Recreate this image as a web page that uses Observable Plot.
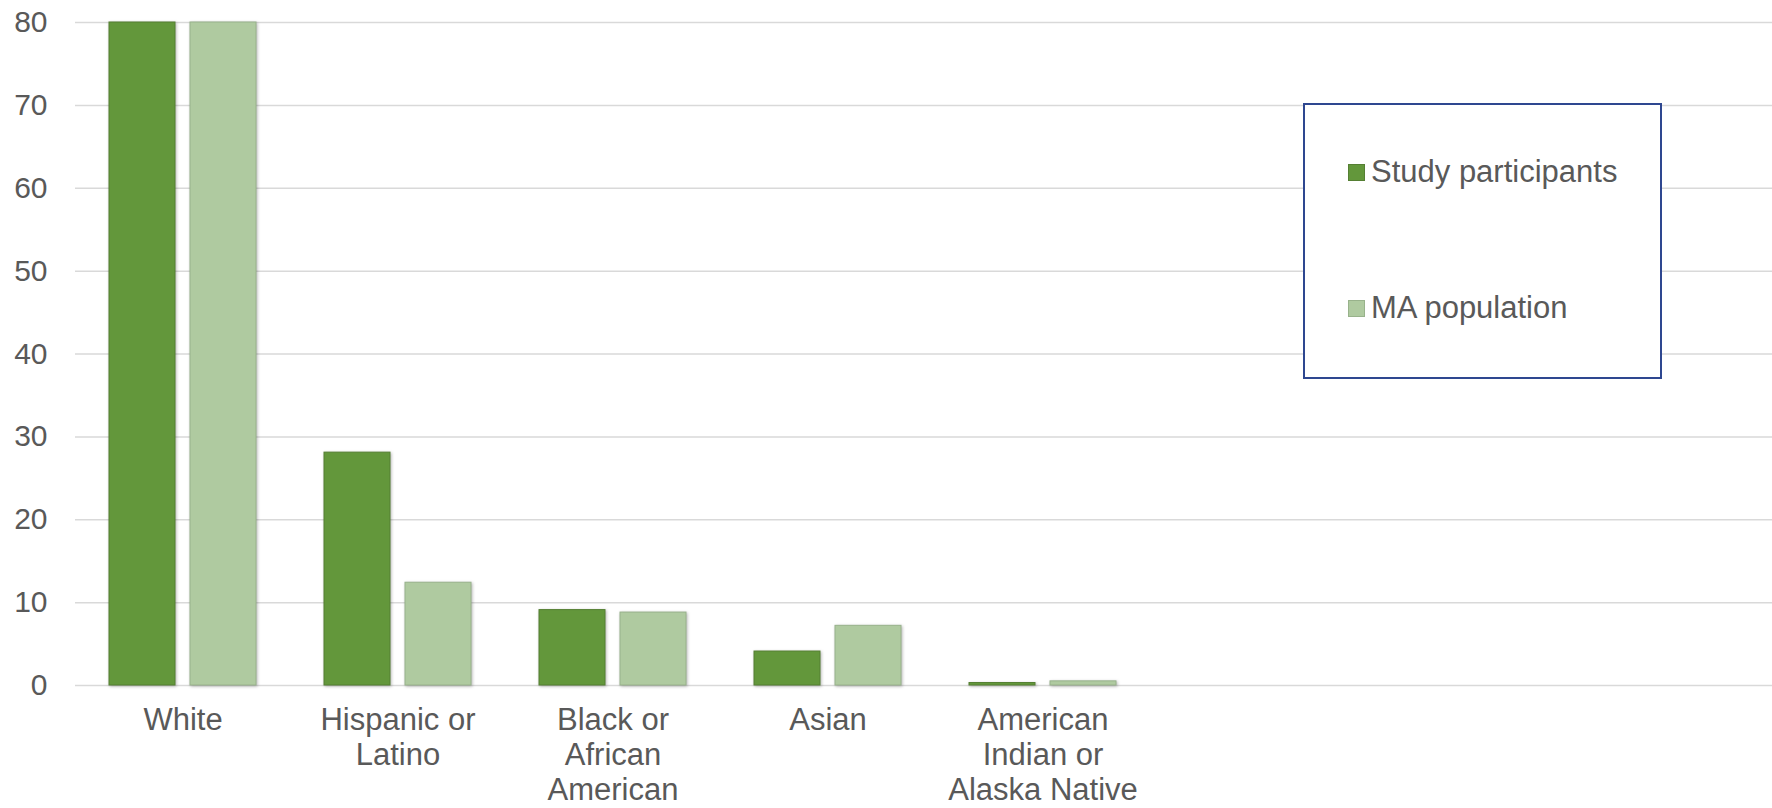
<!DOCTYPE html>
<html><head><meta charset="utf-8">
<script src="https://cdn.jsdelivr.net/npm/d3@7"></script>
<script src="https://cdn.jsdelivr.net/npm/@observablehq/plot@0.6"></script>
<style>
html,body{margin:0;padding:0;background:#fff;overflow:hidden}
#wrap{position:relative;width:1772px;height:808px;overflow:hidden;font-family:"Liberation Sans",Arial,sans-serif;color:#595959}
#legend{position:absolute;left:1303px;top:103px;width:355px;height:272px;border:2px solid #2e4790;background:#fff}
.item{position:absolute;left:43px;font-size:31px;line-height:31px;white-space:nowrap}
.sw{display:inline-block;width:15px;height:15px;border:1px solid;margin-right:6px;vertical-align:1px}
.bars rect{filter:drop-shadow(1px 1px 1.5px rgba(0,0,0,0.28))}
</style></head><body><div id="wrap"></div>
<script>
const categories = ["White","Hispanic or Latino","Black or African American","Asian","American Indian or Alaska Native"];
const tickLabels = ["White","Hispanic or\nLatino","Black or\nAfrican\nAmerican","Asian","American\nIndian or\nAlaska Native"];
const emptySlots = ["slot6","slot7","slot8"];
const seriesNames = ["Study participants","MA population"];
const studyValues = [80, 28.1, 9.1, 4.1, 0.3];
const maValues = [80, 12.4, 8.8, 7.2, 0.5];
const yTicks = [0,10,20,30,40,50,60,70,80];
const fills = ["#63973b","#afcaa0"];
const strokes = ["#557f33","#98b28b"];

const slots = [...categories, ...emptySlots];
const studyRows = categories.map((c,i)=>({category:c, series:seriesNames[0], value:studyValues[i]}));
const maRows = categories.map((c,i)=>({category:c, series:seriesNames[1], value:maValues[i]}));
const grid = slots.flatMap(s => yTicks.map(t => ({slot:s, tick:t})));
const labelOf = new Map(categories.map((c,i)=>[c,tickLabels[i]]));

const chart = Plot.plot({
  width:1772, height:808, marginLeft:75, marginRight:-23, marginTop:22, marginBottom:123,
  style:{fontSize:"30px", fontFamily:'"Liberation Sans", Arial, sans-serif', color:"#595959", background:"#fff", overflow:"visible"},
  fx:{domain:slots, paddingInner:0, paddingOuter:0, label:null, axis:null},
  x:{domain:seriesNames, paddingInner:0.184, paddingOuter:0.411, align:0.5, axis:null},
  y:{domain:[0,80], ticks:yTicks, label:null, axis:null},
  marks:[
    Plot.ruleY(grid,{fx:"slot", y:"tick", stroke:"#d9d9d9", strokeWidth:1.5}),
    Plot.barY(studyRows,{fx:"category", x:"series", y:"value", fill:fills[0], stroke:strokes[0], strokeWidth:1, className:"bars"}),
    Plot.barY(maRows,{fx:"category", x:"series", y:"value", fill:fills[1], stroke:strokes[1], strokeWidth:1, className:"bars"}),
    Plot.axisFx({anchor:"bottom", tickFormat:d => labelOf.get(d) ?? "", tickSize:0, tickPadding:19, lineHeight:1.14, fontSize:31, label:null}),
    Plot.axisY({anchor:"left", ticks:yTicks, tickSize:0, tickPadding:28, fontSize:30, label:null})
  ]
});
const wrap = document.getElementById("wrap");
wrap.appendChild(chart);

const legend = document.createElement("div");
legend.id = "legend";
const tops = [51, 187];
seriesNames.forEach((name,i)=>{
  const it = document.createElement("div");
  it.className = "item";
  it.style.top = tops[i] + "px";
  const sw = document.createElement("span");
  sw.className = "sw";
  sw.style.background = fills[i];
  sw.style.borderColor = strokes[i];
  it.appendChild(sw);
  it.appendChild(document.createTextNode(name));
  legend.appendChild(it);
});
wrap.appendChild(legend);
</script></body></html>
